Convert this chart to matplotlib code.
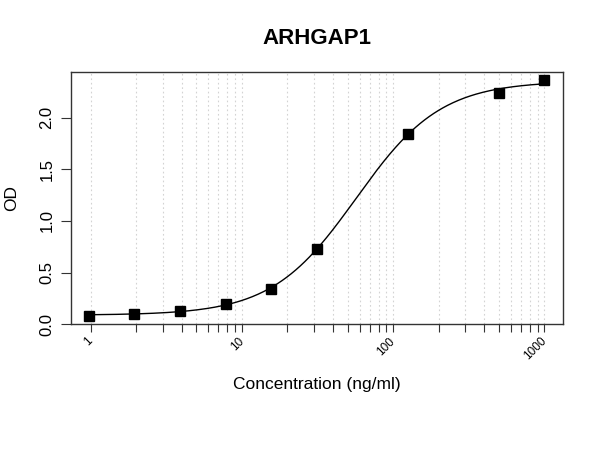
import numpy as np
import matplotlib
matplotlib.use("Agg")
import matplotlib.pyplot as plt
from matplotlib.ticker import FixedLocator, NullLocator

plt.rcParams['font.family'] = ['Liberation Sans', 'DejaVu Sans']

# Data
concentration = [0.98, 1.95, 3.9, 7.8, 15.6, 31.25, 125, 500, 1000]
od = [0.085, 0.10, 0.13, 0.20, 0.34, 0.73, 1.845, 2.24, 2.36]
x_major = [1, 10, 100, 1000]
x_major_labels = ["1", "10", "100", "1000"]
y_ticks = [0.0, 0.5, 1.0, 1.5, 2.0]
y_tick_labels = ["0.0", "0.5", "1.0", "1.5", "2.0"]
title = "ARHGAP1"
xlabel = "Concentration (ng/ml)"
ylabel = "OD"

x = np.array(concentration)
y = np.array(od)

# 4-parameter logistic fit (grid search over EC50 and Hill slope, linear solve for bottom/top)
def fit_4pl(x, y):
    best = None
    lc_range = (np.log10(x.min()), np.log10(x.max()))
    h_range = (0.3, 4.0)
    for _ in range(4):
        lcs = np.linspace(*lc_range, 121)
        hs = np.linspace(*h_range, 121)
        for lc in lcs:
            for h in hs:
                f = 1.0 / (1.0 + (10 ** lc / x) ** h)
                A = np.column_stack([1 - f, f])
                coef, *_ = np.linalg.lstsq(A, y, rcond=None)
                r = np.sum((A @ coef - y) ** 2)
                if best is None or r < best[0]:
                    best = (r, lc, h, coef)
        _, lc0, h0, _ = best
        dlc = (lc_range[1] - lc_range[0]) / 10
        dh = (h_range[1] - h_range[0]) / 10
        lc_range = (lc0 - dlc, lc0 + dlc)
        h_range = (max(0.05, h0 - dh), h0 + dh)
    _, lc, h, (b, t) = best
    return b, t, 10 ** lc, h

b, t, ec50, hill = fit_4pl(x, y)
xc = np.logspace(np.log10(x.min()), np.log10(x.max()), 400)
yc = b + (t - b) / (1 + (ec50 / xc) ** hill)

fig = plt.figure(figsize=(6, 4.5), dpi=100)
ax = fig.add_axes([71 / 600, 1 - 324.3 / 450, (562.7 - 71) / 600, (324.3 - 71.7) / 450])

ax.set_xscale('log')
lx0, lx1 = np.log10(x.min()), np.log10(x.max())
pad = 0.04 * (lx1 - lx0)
ax.set_xlim(10 ** (lx0 - pad), 10 ** (lx1 + pad))
ax.set_ylim(0, max(od) * 1.036)

# vertical dotted grid at every decade subdivision
minor_positions = [m * 10 ** d for d in range(0, 3) for m in range(1, 10)] + [1000]
for xv in minor_positions:
    ax.axvline(xv, color='#d3d3d3', linestyle=(0, (1.5, 2.5)), linewidth=0.8, zorder=0)

ax.plot(xc, yc, color='black', linewidth=1.0, zorder=2)
ax.plot(x, y, linestyle='none', marker='s', markersize=7.6, color='black', zorder=3)

ax.xaxis.set_major_locator(FixedLocator(minor_positions))
ax.xaxis.set_minor_locator(NullLocator())
labels = []
for v in minor_positions:
    labels.append(x_major_labels[x_major.index(v)] if v in x_major else "")
ax.set_xticklabels(labels, fontsize=8.5, rotation=45, ha='right', va='center',
                   rotation_mode='anchor')
ax.tick_params(axis='x', length=6, width=0.8, pad=5, colors='#333333', labelcolor='black')

ax.set_yticks(y_ticks)
ax.set_yticklabels(y_tick_labels, fontsize=12, rotation=90, va='center')
ax.tick_params(axis='y', length=7, width=0.8, pad=5, colors='#333333', labelcolor='black')

for s in ax.spines.values():
    s.set_linewidth(1.0)
    s.set_color('#333333')

fig.text(316.5 / 600, 1 - 38 / 450, title, ha='center', va='center',
         fontsize=16, fontweight='bold')
fig.text(316.5 / 600, 1 - 384 / 450, xlabel, ha='center', va='center', fontsize=12.5)
fig.text(12 / 600, 1 - 198 / 450, ylabel, ha='center', va='center', fontsize=12.5,
         rotation=90)

fig.savefig('out.png', dpi=100)
